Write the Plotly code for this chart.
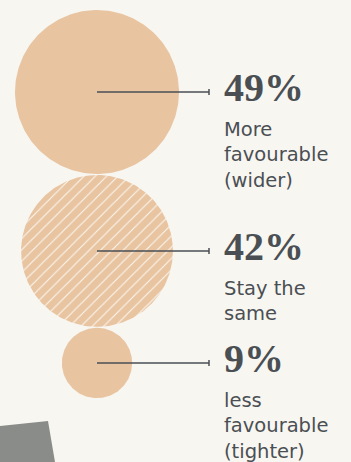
import numpy as np
import plotly.graph_objects as go

# Survey result: share of respondents per outlook
pct_values = [49, 42, 9]
pct_labels = ["49%", "42%", "9%"]
descriptions = ["More<br>favourable<br>(wider)", "Stay the<br>same", "less<br>favourable<br>(tighter)"]
hatched = [False, True, False]

W, H = 351, 462
BG = "#f8f6f1"
PEACH = "#e8c4a1"
INK = "#4a4f54"

# bubble area proportional to value
scale = 82 / np.sqrt(49)
radii = [scale * np.sqrt(v) for v in pct_values]
cx = 97
top = 10
centers = []
y = top
for r in radii:
    centers.append(y + r)
    y += 2 * r + 1

line_end = 209
text_x = 223

fig = go.Figure()
theta = np.linspace(0, 2 * np.pi, 241)
for v, r, cy, h in zip(pct_values, radii, centers, hatched):
    xs = cx + r * np.cos(theta)
    ys = cy + r * np.sin(theta)
    kw = dict(
        x=xs, y=ys, mode="lines", fill="toself", line=dict(width=0, color=PEACH),
        hoverinfo="skip", showlegend=False,
    )
    if h:
        kw["fillpattern"] = dict(shape="/", fillmode="replace", bgcolor=PEACH,
                                 fgcolor="#fbf6ee", size=8, solidity=0.14)
    else:
        kw["fillcolor"] = PEACH
    fig.add_trace(go.Scatter(**kw))

# leader lines with end ticks
for cy in centers:
    fig.add_trace(go.Scatter(x=[cx, line_end], y=[cy, cy], mode="lines",
                             line=dict(color=INK, width=1.5), hoverinfo="skip", showlegend=False))
    fig.add_trace(go.Scatter(x=[line_end, line_end], y=[cy - 3, cy + 3], mode="lines",
                             line=dict(color=INK, width=1.5), hoverinfo="skip", showlegend=False))

annotations = []
for cy, pl, desc in zip(centers, pct_labels, descriptions):
    annotations.append(dict(
        x=text_x, y=cy + 19, xref="x", yref="y", xanchor="left", yanchor="bottom",
        text="<b>%s</b>" % pl, showarrow=False, align="left",
        font=dict(family="Liberation Serif", size=40, color=INK), borderpad=0,
    ))
    annotations.append(dict(
        x=text_x, y=cy + 25, xref="x", yref="y", xanchor="left", yanchor="top",
        text=desc, showarrow=False, align="left",
        font=dict(family="DejaVu Sans", size=19.5, color=INK), borderpad=0,
    ))

fig.update_layout(
    width=W, height=H, margin=dict(l=0, r=0, t=0, b=0),
    paper_bgcolor=BG, plot_bgcolor=BG,
    xaxis=dict(range=[0, W], visible=False, fixedrange=True),
    yaxis=dict(range=[H, 0], visible=False, fixedrange=True),
    annotations=annotations,
    shapes=[dict(type="path", path="M 0 426 L 48 421 L 55 462 L 0 462 Z",
                 fillcolor="#8a8c8a", line=dict(width=0), layer="below")],
)

fig.write_html("out.html")
